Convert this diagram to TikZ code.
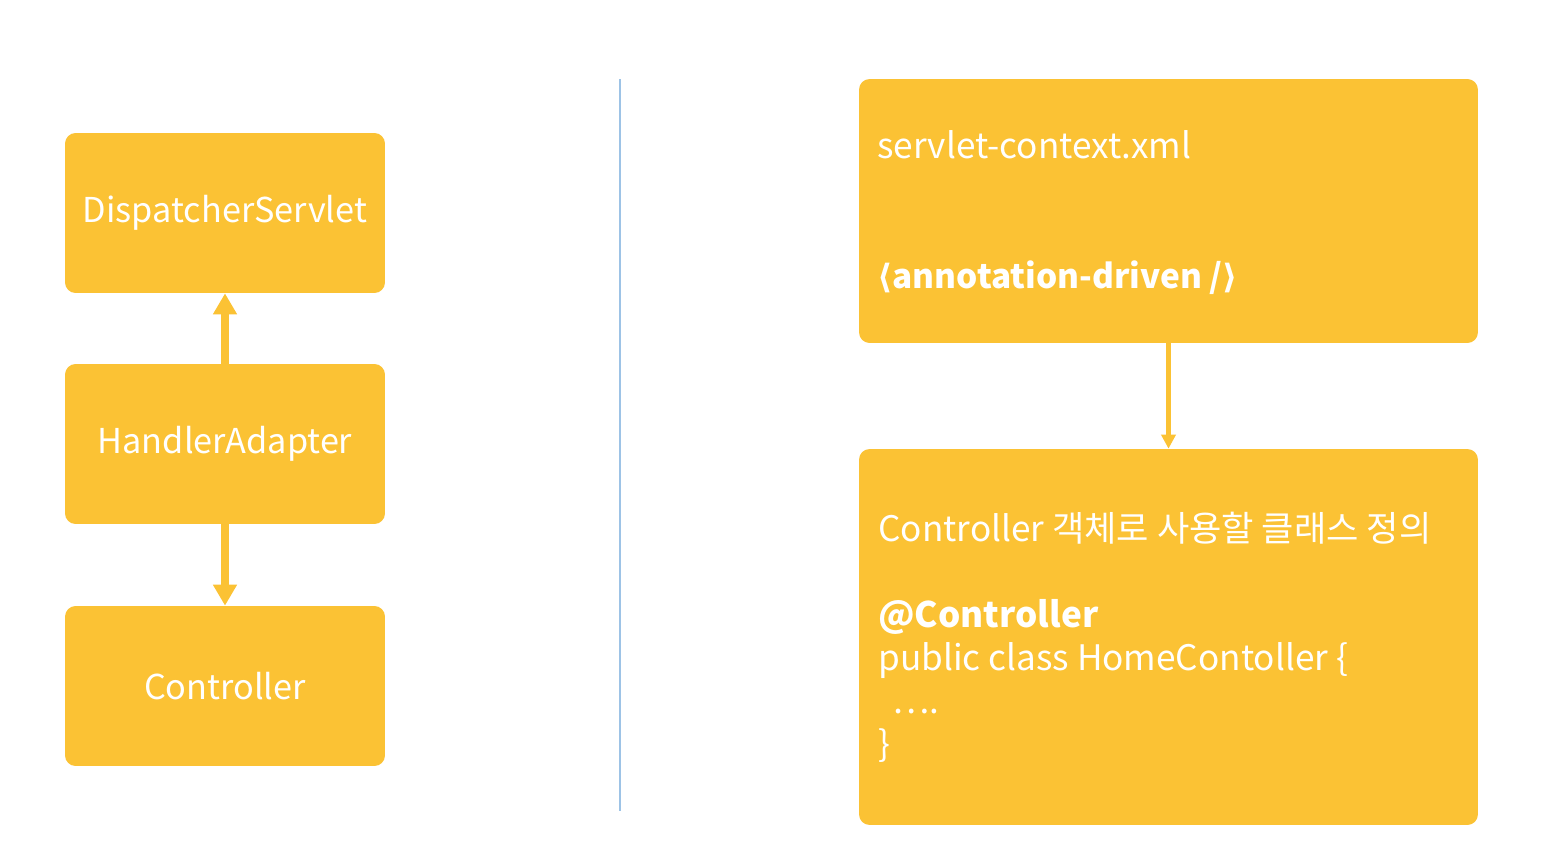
\documentclass[tikz,border=0pt]{standalone}
\usepackage{fontspec}
\setmainfont{Noto Sans CJK KR}
\newfontfamily\bracketfont{DejaVu Sans}
\usetikzlibrary{arrows.meta}
\definecolor{boxyellow}{HTML}{FBC234}
\definecolor{divblue}{HTML}{9DC3E6}

\begin{document}
\begin{tikzpicture}[x=0.02cm, y=-0.02cm,
    compbox/.style={fill=boxyellow, rounded corners=6pt, minimum width=6.4cm,
                    minimum height=3.2cm, text=white, font=\fontsize{19.5}{23}\selectfont},
    confbox/.style={fill=boxyellow, rounded corners=6pt, minimum width=12.38cm},
    conftext/.style={text=white, font=\fontsize{20}{24.4}\selectfont, align=left, inner sep=0pt},
    thickarr/.style={-{Triangle[length=12pt, width=13pt]}, line width=4.5pt, draw=boxyellow},
    thinarr/.style={-{Triangle[length=8pt, width=8pt]}, line width=2.8pt, draw=boxyellow}
]
    \useasboundingbox (0,0) rectangle (1555,852);

    % left column
    \node[compbox] (disp) at (225, 213) {DispatcherServlet};
    \node[compbox] (hand) at (225, 444) {HandlerAdapter};
    \node[compbox] (ctrl) at (225, 686) {Controller};

    \draw[thickarr] (hand.north) -- (disp.south);
    \draw[thickarr] (hand.south) -- (ctrl.north);

    % divider
    \coordinate (divtop) at (620, 79);
    \coordinate (divbot) at (620, 811);
    \draw[divblue, line width=1pt] (divtop) -- (divbot);

    % right column
    \node[confbox, minimum height=5.28cm] (ctx) at (1168.5, 211) {};
    \node[confbox, minimum height=7.52cm] (def) at (1168.5, 637) {};

    \node[conftext, anchor=base west] (ctxname) at (877, 158) {servlet-context.xml};
    \node[conftext, anchor=base west, font=\bfseries\fontsize{19}{24.4}\selectfont] (anno) at (877, 288)
        {{\bracketfont ⟨}annotation-driven /{\bracketfont ⟩}};

    \node[conftext, anchor=north west] (code) at (878, 512)
        {Controller 객체로 사용할 클래스 정의\\
         ~\\
         \textbf{@Controller}\\
         public class HomeContoller \{\\
         \hspace{0.4em}….\\
         \}};

    \draw[thinarr] (ctx.south) -- (def.north);
\end{tikzpicture}
\end{document}
